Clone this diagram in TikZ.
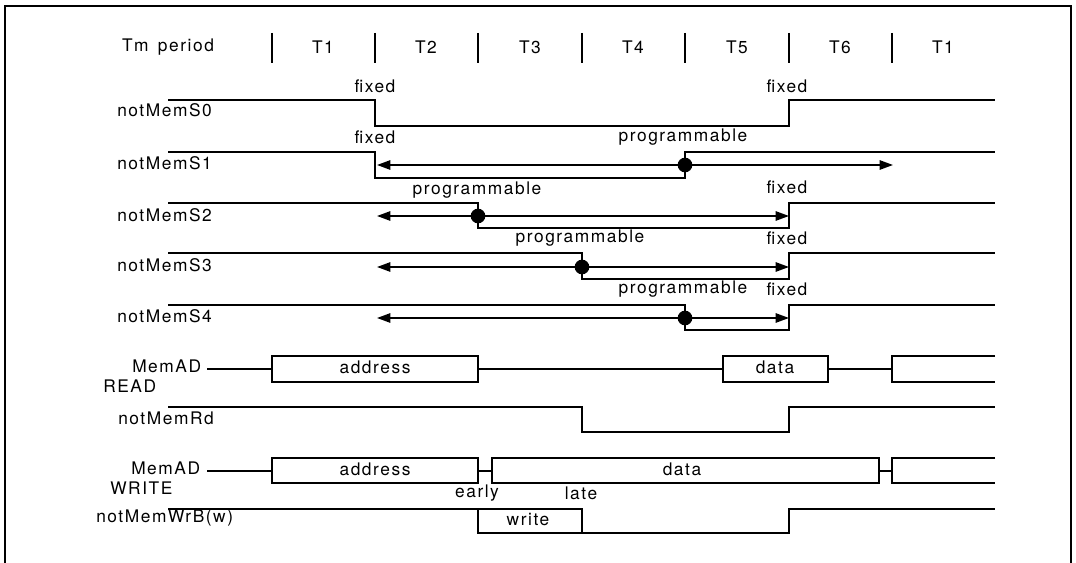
\documentclass[tikz,border=0pt]{standalone}
\usepackage{fontspec}
\setmainfont{TeX Gyre Heros}[LetterSpace=9]
\usetikzlibrary{arrows.meta}

\tikzset{
  sig/.style={line width=1.3pt},
  txt/.style={font=\fontsize{13}{15}\selectfont, inner sep=0pt},
  rng/.style={line width=1.3pt, -{Triangle[length=10pt,width=7pt]}},
  pivot/.style={circle, fill=black, inner sep=0pt, minimum size=11pt},
}

\begin{document}
\begin{tikzpicture}[x=0.75pt, y=-0.75pt]
  \useasboundingbox (0,0) rectangle (1076,563);
  \draw[line width=1.4pt] (5,6) rectangle (1071,590);

  % header
  \node[txt] (tm) at (168,47) {Tm\hspace{7pt}period};
  \foreach \x in {272,375,478,582,685,789,892}
    \draw[line width=2pt] (\x,33) -- (\x,63);
  \foreach \x/\t [count=\i] in {323/T1,426/T2,530/T3,633/T4,737/T5,840/T6,943/T1}
    \node[txt] (t\i) at (\x,47) {\t};

  % signal names
  \begin{scope}[every node/.style={txt, anchor=west}]
    \node (s0) at (117,110) {notMemS0};
    \node (s1) at (117,163) {notMemS1};
    \node (s2) at (117,215) {notMemS2};
    \node (s3) at (117,265) {notMemS3};
    \node (s4) at (117,316) {notMemS4};
    \node (adr) at (132,366) {MemAD};
    \node (rd) at (103,386) {READ};
    \node (nrd) at (118,418) {notMemRd};
    \node (adw) at (131,468) {MemAD};
    \node (wr) at (110,488) {WRITE};
    \node (nwr) at (96,518) {notMemWrB(w)};
  \end{scope}

  % notes
  \begin{scope}[every node/.style={txt}]
    \node (f0a) at (375,86) {fixed};
    \node (f0b) at (787,86) {fixed};
    \node (f1) at (375,137) {fixed};
    \node (p1) at (683,137) {programmable};
    \node (p2) at (477,190) {programmable};
    \node (f2) at (787,187) {fixed};
    \node (p3) at (580,238) {programmable};
    \node (f3) at (787,238) {fixed};
    \node (p4) at (683,289) {programmable};
    \node (f4) at (787,289) {fixed};
    \node (early) at (477,493) {early};
    \node (late) at (581,493) {late};
  \end{scope}

  % chip selects
  \draw[sig] (168,100) -- (375,100) -- (375,126) -- (789,126) -- (789,100) -- (995,100);
  \draw[sig] (168,152) -- (375,152) -- (375,178) -- (685,178) -- (685,152) -- (995,152);
  \draw[sig] (168,203) -- (478,203) -- (478,228) -- (789,228) -- (789,203) -- (995,203);
  \draw[sig] (168,253) -- (582,253) -- (582,279) -- (789,279) -- (789,253) -- (995,253);
  \draw[sig] (168,305) -- (685,305) -- (685,330) -- (789,330) -- (789,305) -- (995,305);

  \node[pivot] (d1) at (685,165) {};
  \node[pivot] (d2) at (478,216) {};
  \node[pivot] (d3) at (582,267) {};
  \node[pivot] (d4) at (685,318) {};
  \draw[rng] (d1.center) -- (377,165);
  \draw[rng] (d1.center) -- (893,165);
  \draw[rng] (d2.center) -- (377,216);
  \draw[rng] (d2.center) -- (789,216);
  \draw[rng] (d3.center) -- (377,267);
  \draw[rng] (d3.center) -- (789,267);
  \draw[rng] (d4.center) -- (377,318);
  \draw[rng] (d4.center) -- (789,318);

  % read cycle
  \draw[sig] (207,369) -- (272,369) (478,369) -- (723,369) (828,369) -- (892,369);
  \draw[sig] (272,356) rectangle (478,382) (723,356) rectangle (828,382);
  \draw[sig] (995,356) -- (892,356) -- (892,382) -- (995,382);
  \node[txt] (ra) at (375,367) {address};
  \node[txt] (rdat) at (775,367) {data};
  \draw[sig] (168,407) -- (582,407) -- (582,432) -- (789,432) -- (789,407) -- (995,407);

  % write cycle
  \draw[sig] (207,471) -- (272,471) (478,471) -- (492,471) (879,471) -- (892,471);
  \draw[sig] (272,458) rectangle (478,483) (492,458) rectangle (879,483);
  \draw[sig] (995,458) -- (892,458) -- (892,483) -- (995,483);
  \node[txt] (wa) at (375,469) {address};
  \node[txt] (wdat) at (682,469) {data};
  \draw[sig] (168,509) -- (478,509) -- (478,533) -- (789,533) -- (789,509) -- (995,509);
  \draw[sig] (478,509) -- (582,509) -- (582,533);
  \node[txt] (wrt) at (528,520) {write};
\end{tikzpicture}
\end{document}
